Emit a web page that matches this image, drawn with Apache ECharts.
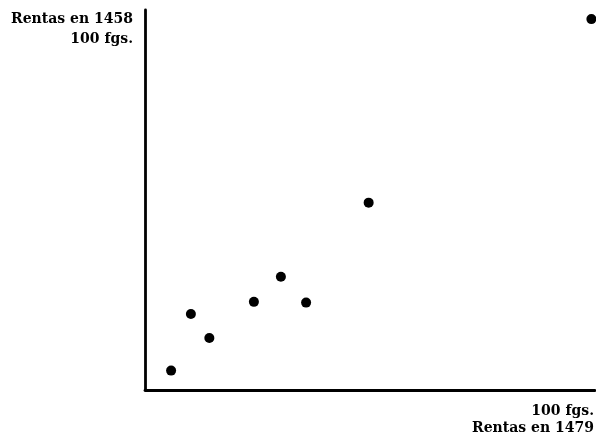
<!DOCTYPE html>
<html>
<head>
<meta charset="utf-8">
<script src="https://cdn.jsdelivr.net/npm/echarts@6/dist/echarts.min.js"></script>
<style>html,body{margin:0;padding:0;background:#fff}#c{width:596px;height:445px}</style>
</head>
<body>
<div id="c"></div>
<script>
// Rentas en 1479 (x) vs Rentas en 1458 (y), 0..100 fgs.
const rentas1479 = [5.8, 10.2, 14.3, 24.2, 30.2, 35.8, 49.7, 99.2];
const rentas1458 = [5.1, 20.0, 13.7, 23.2, 29.8, 23.0, 49.3, 97.6];
const yLabels = ['Rentas en 1458', '100 fgs.'];
const xLabels = ['100 fgs.', 'Rentas en 1479'];

const chart = echarts.init(document.getElementById('c'));
const pts = rentas1479.map((x, i) => [x, rentas1458[i]]);
const font = 'bold 14px "DejaVu Serif", "Liberation Serif", serif';
chart.setOption({
  animation: false,
  backgroundColor: '#fff',
  grid: { left: 145, right: 1, top: 10, bottom: 55 },
  xAxis: {
    type: 'value', min: 0, max: 100,
    axisLine: { show: true, onZero: false, lineStyle: { color: '#000', width: 2.8 } },
    axisTick: { show: false }, axisLabel: { show: false }, splitLine: { show: false }
  },
  yAxis: {
    type: 'value', min: 0, max: 100,
    axisLine: { show: true, onZero: false, lineStyle: { color: '#000', width: 2.8 } },
    axisTick: { show: false }, axisLabel: { show: false }, splitLine: { show: false }
  },
  series: [{
    type: 'scatter',
    data: pts,
    symbol: 'circle',
    symbolSize: 10,
    itemStyle: { color: '#000', opacity: 1 }
  }],
  graphic: [
    { type: 'text', right: 596 - 133, top: 12, style: { text: yLabels[0], font: font, fill: '#000', textAlign: 'right' } },
    { type: 'text', right: 596 - 133, top: 32, style: { text: yLabels[1], font: font, fill: '#000', textAlign: 'right' } },
    { type: 'text', right: 2, top: 404, style: { text: xLabels[0], font: font, fill: '#000', textAlign: 'right' } },
    { type: 'text', right: 2, top: 421, style: { text: xLabels[1], font: font, fill: '#000', textAlign: 'right' } }
  ]
});
</script>
</body>
</html>
